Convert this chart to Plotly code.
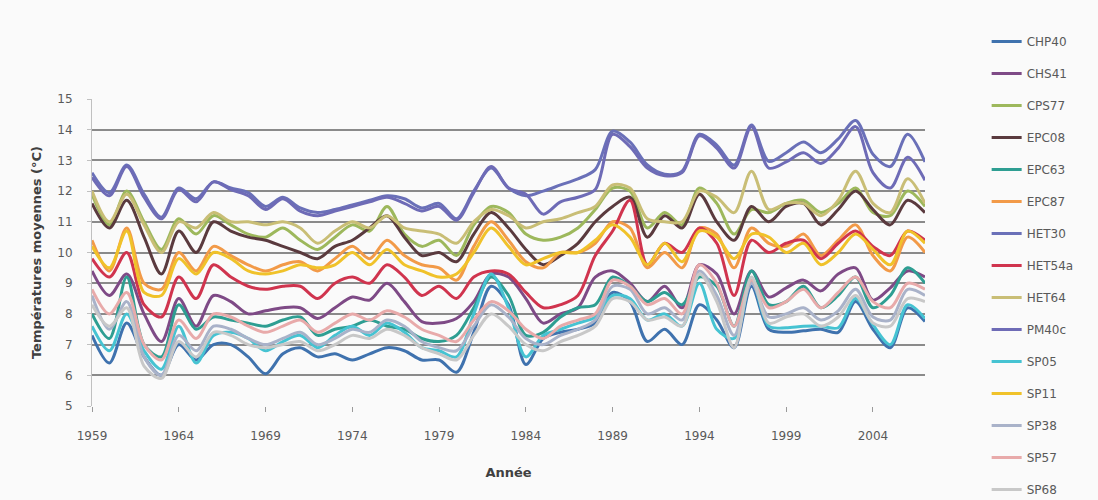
import plotly.graph_objects as go

years = list(range(1959, 2008))

CHP40 = [7.3, 6.4, 7.7, 6.6, 6.0, 7.0, 6.5, 7.0, 7.0, 6.6, 6.05, 6.7, 6.9, 6.6, 6.7, 6.5, 6.7, 6.9, 6.8, 6.5,
         6.5, 6.1, 7.4, 8.9, 8.3, 6.35, 7.2, 7.4, 7.5, 7.7, 8.7, 8.4, 7.1, 7.5, 7.0, 8.3, 7.8, 6.9, 8.9, 7.5,
         7.4, 7.45, 7.5, 7.4, 8.4, 7.5, 6.9, 8.2, 7.75]
CHS41 = [9.4, 8.6, 9.3, 8.0, 7.1, 8.5, 7.6, 8.6, 8.4, 8.0, 8.1, 8.2, 8.2, 7.85, 8.2, 8.55, 8.45, 9.0, 8.4, 7.75,
         7.7, 7.85, 8.4, 9.3, 9.2, 8.5, 7.7, 8.0, 8.2, 9.2, 9.4, 9.0, 8.4, 8.9, 8.2, 9.6, 9.3, 8.0, 9.4, 8.55,
         8.85, 9.1, 8.75, 9.3, 9.5, 8.45, 8.85, 9.4, 9.2]
CPS77 = [11.9, 10.9, 12.0, 11.0, 10.1, 11.1, 10.6, 11.2, 10.9, 10.6, 10.5, 10.8, 10.4, 10.1, 10.5, 10.9, 10.7, 11.5, 10.6, 10.2,
         10.4, 9.9, 10.9, 11.5, 11.3, 10.6, 10.4, 10.5, 10.8, 11.4, 12.1, 12.0, 10.8, 11.3, 10.9, 12.1, 11.6, 10.6, 11.4, 11.3,
         11.6, 11.7, 11.3, 11.6, 12.1, 11.3, 11.2, 12.0, 11.5]
EPC08 = [11.6, 10.8, 11.7, 10.5, 9.3, 10.7, 10.0, 11.0, 10.7, 10.5, 10.4, 10.2, 10.0, 9.8, 10.2, 10.4, 10.8, 11.2, 10.5, 9.9,
         10.0, 9.7, 10.6, 11.3, 10.8, 10.1, 9.6, 9.9, 10.3, 11.0, 11.5, 11.8, 10.5, 11.2, 10.8, 11.9, 11.0, 10.4, 11.5, 11.0,
         11.5, 11.6, 10.9, 11.4, 12.0, 11.4, 10.9, 11.7, 11.3]
EPC63 = [8.0, 7.2, 9.2, 7.0, 6.6, 8.3, 7.5, 7.9, 7.8, 7.7, 7.6, 7.8, 7.9, 7.3, 7.5, 7.6, 7.8, 7.6, 7.5, 7.2,
         7.1, 7.3, 8.2, 9.2, 8.6, 7.3, 7.4, 7.9, 8.2, 8.3, 9.2, 8.9, 8.4, 8.7, 8.3, 9.2, 8.9, 7.6, 9.4, 8.3,
         8.4, 8.9, 8.2, 8.6, 9.2, 8.2, 8.6, 9.5, 9.0]
EPC87 = [10.4, 9.4, 10.8, 9.0, 8.8, 10.0, 9.4, 10.2, 9.9, 9.6, 9.4, 9.6, 9.7, 9.4, 9.8, 10.2, 9.8, 10.4, 9.9, 9.6,
         9.5, 9.1, 10.2, 11.0, 10.4, 9.7, 9.5, 10.0, 10.0, 10.3, 11.0, 10.8, 9.5, 10.0, 9.5, 10.8, 10.6, 9.5, 10.8, 10.3,
         10.2, 10.6, 9.9, 10.4, 10.9, 9.9, 9.4, 10.5, 10.0]
HET30 = [12.6, 11.95, 12.85, 11.9, 11.15, 12.1, 11.75, 12.3, 12.1, 11.95, 11.5, 11.8, 11.45, 11.3, 11.4, 11.55, 11.7, 11.85, 11.75, 11.45,
         11.6, 11.1, 12.0, 12.75, 12.1, 11.85, 12.0, 12.2, 12.4, 12.7, 13.95, 13.6, 12.85, 12.55, 12.65, 13.85, 13.5, 12.85, 14.15, 12.97,
         13.25, 13.6, 13.25, 13.7, 14.3, 13.2, 12.8, 13.85, 12.95]
HET54a = [9.8, 9.2, 10.0, 8.3, 7.9, 9.2, 8.5, 9.6, 9.2, 8.9, 8.8, 8.9, 8.9, 8.5, 9.0, 9.2, 9.0, 9.6, 9.2, 8.6,
          8.9, 8.5, 9.2, 9.4, 9.3, 8.7, 8.2, 8.3, 8.6, 9.9, 10.7, 11.7, 9.6, 10.3, 10.0, 10.8, 10.3, 8.6, 10.4, 10.0,
          10.3, 10.4, 9.8, 10.3, 10.7, 10.2, 9.9, 10.7, 10.4]
HET64 = [12.0, 11.0, 11.9, 10.9, 10.0, 11.0, 10.8, 11.3, 11.0, 11.0, 10.9, 11.0, 10.8, 10.3, 10.7, 11.0, 10.8, 11.2, 10.8, 10.7,
         10.6, 10.3, 11.0, 11.4, 11.2, 10.8, 11.0, 11.1, 11.3, 11.5, 12.2, 12.1, 11.1, 11.0, 11.0, 12.0, 11.8, 11.3, 12.65, 11.4,
         11.6, 11.6, 11.2, 11.7, 12.65, 11.6, 11.3, 12.4, 11.6]
PM40c = [12.45, 11.85, 12.8, 11.8, 11.1, 12.05, 11.65, 12.3, 12.05, 11.85, 11.4, 11.75, 11.35, 11.2, 11.35, 11.5, 11.65, 11.8, 11.6, 11.35,
         11.5, 11.05, 11.95, 12.8, 12.1, 11.9, 11.25, 11.65, 11.8, 12.05, 13.85, 13.45, 12.75, 12.5, 12.6, 13.8, 13.4, 12.75, 14.1, 12.75,
         12.95, 13.25, 12.9, 13.4, 14.1, 12.6, 12.1, 13.1, 12.35]
SP05 = [7.6, 6.8, 8.0, 6.8, 6.2, 7.6, 6.4, 7.3, 7.4, 7.2, 6.8, 7.1, 7.3, 6.9, 7.3, 7.6, 7.3, 7.7, 7.4, 6.9,
        6.8, 6.6, 8.0, 9.3, 8.2, 6.6, 7.3, 7.5, 7.7, 7.9, 8.6, 8.5, 7.8, 8.0, 7.6, 9.0, 7.5, 7.2, 9.1, 7.6,
        7.55, 7.6, 7.6, 7.55, 8.5, 7.65, 7.0, 8.3, 7.85]
SP11 = [10.2, 9.5, 10.7, 8.7, 8.6, 9.8, 9.3, 10.0, 9.8, 9.4, 9.3, 9.4, 9.6, 9.5, 9.6, 10.0, 9.6, 10.1, 9.6, 9.4,
        9.2, 9.3, 10.0, 10.8, 10.2, 9.6, 9.8, 10.0, 10.0, 10.4, 10.9, 10.5, 9.6, 10.3, 9.7, 10.7, 10.5, 9.8, 10.6, 10.5,
        10.0, 10.3, 9.6, 10.0, 10.6, 10.1, 9.6, 10.7, 10.3]
SP38 = [8.6, 7.5, 8.4, 6.6, 6.0, 7.3, 6.8, 7.6, 7.5, 7.2, 7.0, 7.2, 7.4, 7.0, 7.2, 7.5, 7.4, 7.8, 7.6, 7.1,
        6.9, 6.8, 7.6, 8.3, 7.9, 7.2, 7.0, 7.3, 7.5, 7.8, 8.9, 8.8, 8.0, 8.2, 7.8, 9.4, 8.6, 7.3, 9.0, 7.9,
        8.0, 8.2, 7.8, 8.1, 8.8, 7.9, 7.8, 8.8, 8.6]
SP57 = [8.8, 8.0, 8.7, 7.0, 6.5, 7.8, 7.2, 8.0, 7.9, 7.6, 7.4, 7.6, 7.8, 7.4, 7.7, 8.0, 7.8, 8.1, 7.9, 7.5,
        7.3, 7.1, 7.8, 8.4, 8.1, 7.5, 7.2, 7.6, 7.8, 8.0, 9.1, 8.9, 8.3, 8.5, 8.0, 9.6, 9.0, 7.6, 9.1, 8.2,
        8.4, 8.8, 8.2, 8.7, 9.2, 8.4, 8.2, 9.0, 8.8]
SP68 = [8.3, 7.6, 8.2, 6.3, 5.9, 7.1, 6.6, 7.4, 7.3, 7.0, 6.9, 7.0, 7.1, 6.8, 7.0, 7.3, 7.2, 7.5, 7.3, 6.9,
        6.7, 6.5, 7.3, 8.0, 7.6, 7.0, 6.8, 7.1, 7.3, 7.6, 8.5, 8.4, 7.8, 7.9, 7.6, 9.3, 8.4, 6.9, 9.2, 7.7,
        7.9, 8.0, 7.6, 7.9, 8.6, 7.7, 7.6, 8.5, 8.4]

series_names = ["CHP40", "CHS41", "CPS77", "EPC08", "EPC63", "EPC87", "HET30", "HET54a",
                "HET64", "PM40c", "SP05", "SP11", "SP38", "SP57", "SP68"]
series_values = [CHP40, CHS41, CPS77, EPC08, EPC63, EPC87, HET30, HET54a,
                 HET64, PM40c, SP05, SP11, SP38, SP57, SP68]
series_colors = ["#3F72AE", "#7E4A86", "#9DB85C", "#5A3A3E", "#2E9E92", "#F29A48", "#6A70B8", "#D0344E",
                 "#C9BE76", "#6E6BB6", "#46C3D2", "#F0C22A", "#A9B2C9", "#E8AAAA", "#C8C8C8"]

x_ticks = list(range(1959, 2005, 5))
y_ticks = list(range(5, 16))

fig = go.Figure()
for i, (name, vals, col) in enumerate(zip(series_names, series_values, series_colors)):
    fig.add_trace(go.Scatter(
        x=years, y=vals, name=name, mode="lines", legendgroup=name,
        legend="legend" if i < 7 else "legend2",
        line=dict(color=col, width=3, shape="spline", smoothing=0.9),
    ))

font_family = "'DejaVu Sans', Verdana, sans-serif"
leg_common = dict(
    xanchor="left", yanchor="top",
    font=dict(family=font_family, size=12, color="#595959"),
    tracegroupgap=13, traceorder="grouped",
    bgcolor="rgba(0,0,0,0)",
)

fig.update_layout(
    width=1098, height=500,
    margin=dict(l=92, r=173, t=99, b=94, autoexpand=False),
    paper_bgcolor="#FAFAFA", plot_bgcolor="#FAFAFA",
    font=dict(family=font_family, size=12, color="#595959"),
    showlegend=True,
    legend=dict(x=1.074, y=1.2345, **leg_common),
    legend2=dict(x=1.074, y=0.505, **leg_common),
    xaxis=dict(
        range=[1959, 2007], tickvals=x_ticks, ticktext=[str(v) for v in x_ticks],
        showgrid=False, zeroline=False, showline=False, automargin=False,
        ticks="outside", ticklen=5, tickcolor="#9A9A9A",
        ticklabelstandoff=14,
        tickfont=dict(size=12, color="#595959"),
        title=dict(text="<b>Année</b>", font=dict(size=13, color="#404040"), standoff=25),
    ),
    yaxis=dict(
        range=[5, 15], tickvals=y_ticks, automargin=False,
        showgrid=True, gridcolor="#8A8A8A", gridwidth=1.5,
        zeroline=False, showline=True, linecolor="#C0C0C0", linewidth=1,
        ticks="outside", ticklen=4, tickcolor="#C0C0C0",
        ticklabelstandoff=12,
        tickfont=dict(size=12, color="#595959"),
        title=dict(text="<b>Températures moyennes (°C)</b>", font=dict(size=13, color="#404040"), standoff=12),
    ),
)

fig.write_html("out.html")
